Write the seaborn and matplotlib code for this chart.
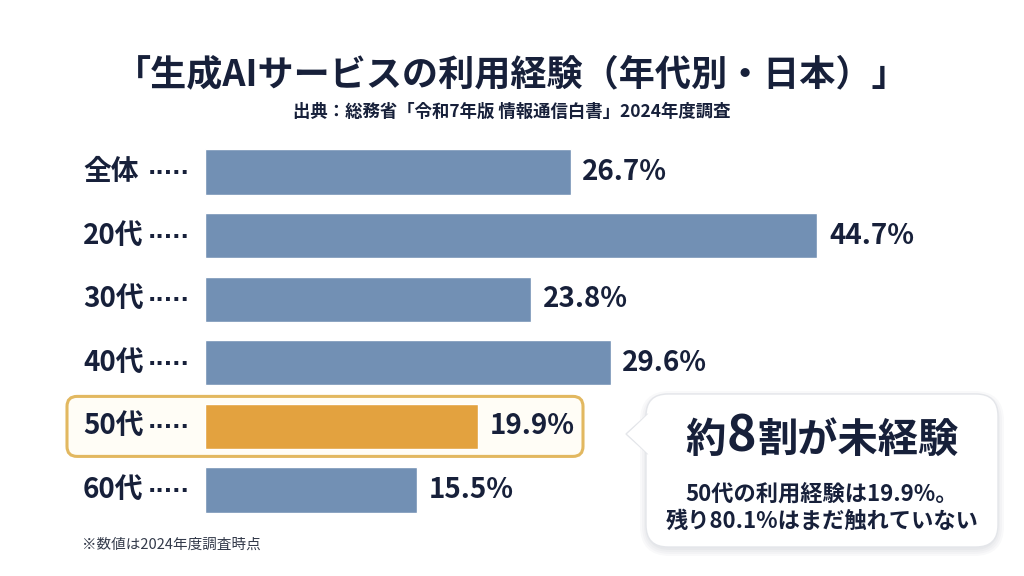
import matplotlib
matplotlib.use("Agg")
import matplotlib.pyplot as plt
import seaborn as sns
import pandas as pd
from matplotlib.patches import FancyBboxPatch, Polygon

categories = ["全体", "20代", "30代", "40代", "50代", "60代"]
values = [26.7, 44.7, 23.8, 29.6, 19.9, 15.5]
value_labels = ["26.7%", "44.7%", "23.8%", "29.6%", "19.9%", "15.5%"]
highlight = "50代"

title = "「生成AIサービスの利用経験（年代別・日本）」"
subtitle = "出典：総務省「令和7年版 情報通信白書」2024年度調査"
footnote = "※数値は2024年度調査時点"
callout_head_parts = ["約", "8", "割が未経験"]
callout_lines = ["50代の利用経験は19.9%。", "残り80.1%はまだ触れていない"]

BLUE = "#7290b4"
ORANGE = "#e3a23f"
NAVY = "#17203a"

sns.set_theme(style="white")
plt.rcParams["font.family"] = ["Noto Sans CJK JP", "DejaVu Sans"]

W, H = 1024, 576
fig = plt.figure(figsize=(W / 100, H / 100), dpi=100)
fig.patch.set_facecolor("white")

# overlay axes in pixel coordinates (behind)
ov = fig.add_axes([0, 0, 1, 1], zorder=0)
ov.set_xlim(0, W)
ov.set_ylim(H, 0)
ov.axis("off")

# bar axes
row_px = 63.6
top_px = 172 - row_px / 2
ax_h = row_px * len(categories)
px_per_unit = 13.7
ax_w = 690
ax = fig.add_axes([205 / W, (H - top_px - ax_h) / H, ax_w / W, ax_h / H], zorder=1)
ax.patch.set_visible(False)

df = pd.DataFrame({"cat": categories, "val": values})
palette = {c: (ORANGE if c == highlight else BLUE) for c in categories}
sns.barplot(data=df, y="cat", x="val", hue="cat", palette=palette, legend=False,
            orient="h", width=0.71, saturation=1, ax=ax, order=categories)
ax.set_xlim(0, ax_w / px_per_unit)
ax.set_ylim(len(categories) - 0.5, -0.5)
for s in ax.spines.values():
    s.set_visible(False)
ax.set_xticks([])
ax.set_yticks([])
ax.set_xlabel("")
ax.set_ylabel("")

# category labels and value labels
for i, (c, v, lab) in enumerate(zip(categories, values, value_labels)):
    ax.text(v + 0.85, i, lab, va="center", ha="left", fontsize=20,
            fontweight="bold", color=NAVY)
    y_px = top_px + row_px * (i + 0.5)
    ov.text(83, y_px, c, va="center", ha="left", fontsize=20,
            fontweight="bold", color=NAVY)
    ov.text(148, y_px + 1, "·····", va="center", ha="left", fontsize=16,
            fontweight="bold", color=NAVY, family="DejaVu Sans")

# highlight box around 50代
hi = categories.index(highlight)
yc = top_px + row_px * (hi + 0.5)
hb = FancyBboxPatch((67, yc - 30), 516, 60,
                    boxstyle="round,pad=0,rounding_size=10",
                    facecolor="#fffdf6", edgecolor="#e2b860", linewidth=2.2)
ov.add_patch(hb)

# callout with shadow
bx, by, bw, bh = 646, 394, 352, 153
for k, a in enumerate([0.05, 0.05, 0.05, 0.06]):
    d = 8 - 2 * k
    sh = FancyBboxPatch((bx - d + 2, by - d + 5), bw + 2 * d - 4, bh + 2 * d - 4,
                        boxstyle="round,pad=0,rounding_size=%d" % (22 + d),
                        facecolor="#8a93a6", edgecolor="none", alpha=a)
    ov.add_patch(sh)
cb = FancyBboxPatch((bx, by), bw, bh, boxstyle="round,pad=0,rounding_size=22",
                    facecolor="white", edgecolor="#e4e6ea", linewidth=1.0)
ov.add_patch(cb)
tail = Polygon([(bx + 2, 414), (626, 434), (bx + 2, 454)], closed=True,
               facecolor="white", edgecolor="#e4e6ea", linewidth=1.0)
ov.add_patch(tail)
ov.add_patch(Polygon([(bx + 3, 413), (628, 434), (bx + 3, 455)], closed=True,
                     facecolor="white", edgecolor="none"))

# headline with a larger "8", centred as a group
renderer = fig.canvas.get_renderer()
sizes = [29, 36, 29]
head_texts = []
for part, fs in zip(callout_head_parts, sizes):
    t = ov.text(0, 452, part, ha="left", va="baseline", fontsize=fs,
                fontweight="bold", color=NAVY)
    head_texts.append(t)
widths = [t.get_window_extent(renderer).width for t in head_texts]
gap = 1.0
total = sum(widths) + gap * (len(widths) - 1)
x = 822 - total / 2
for t, w in zip(head_texts, widths):
    t.set_x(x)
    x += w + gap

ov.text(822, 494, callout_lines[0], ha="center", va="center", fontsize=16,
        fontweight="bold", color=NAVY)
ov.text(822, 521, callout_lines[1], ha="center", va="center", fontsize=16,
        fontweight="bold", color=NAVY)

# title, subtitle, footnote
ov.text(512, 75, title, ha="center", va="center", fontsize=26,
        fontweight="bold", color=NAVY)
ov.text(512, 112, subtitle, ha="center", va="center", fontsize=12.5,
        fontweight="bold", color=NAVY)
ov.text(82, 545, footnote, ha="left", va="center", fontsize=10.5,
        color="#333a4a")

fig.savefig("out.png", dpi=100, facecolor="white")
